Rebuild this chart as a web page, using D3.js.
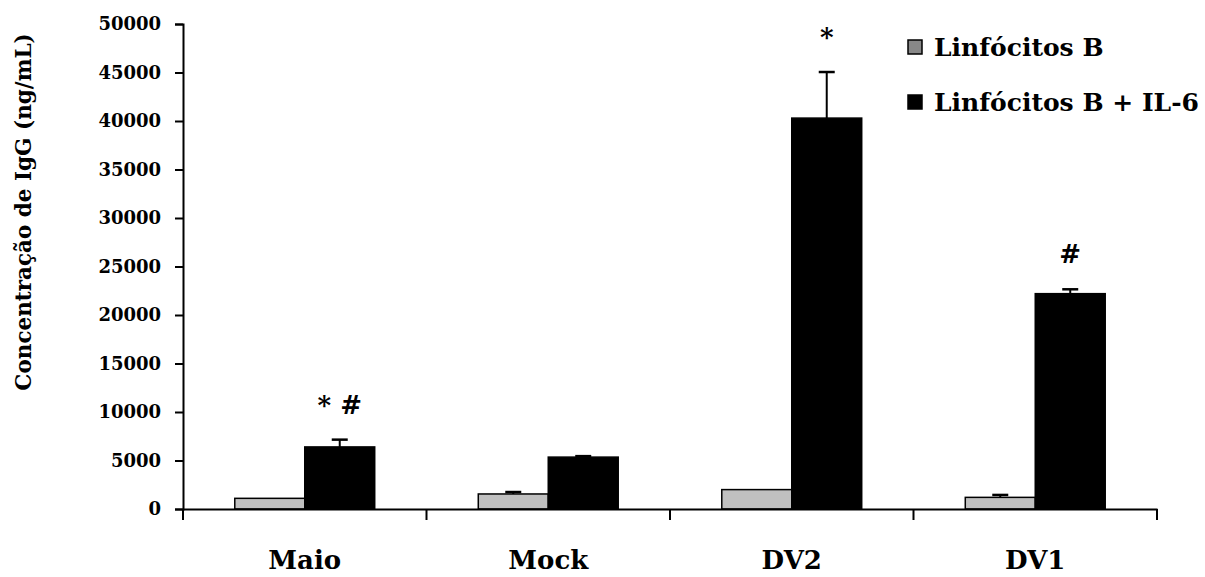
<!DOCTYPE html>
<html>
<head>
<meta charset="utf-8">
<script src="https://cdn.jsdelivr.net/npm/d3@7"></script>
<style>
  body { margin: 0; background: #fff; }
  text { font-family: "DejaVu Serif", serif; font-weight: bold; fill: #000; }
</style>
</head>
<body>
<div id="viz"></div>
<script>
// data
const categories = ["Maio", "Mock", "DV2", "DV1"];
const seriesNames = ["Linfócitos B", "Linfócitos B + IL-6"];
const linfB = [1100, 1550, 2000, 1200];
const linfBErr = [0, 200, 0, 250];
const linfIL6 = [6400, 5350, 40300, 22200];
const linfIL6Err = [750, 100, 4750, 450];
const marks = ["* #", "", "*", "#"];
const yTicks = [0, 5000, 10000, 15000, 20000, 25000, 30000, 35000, 40000, 45000, 50000];

const width = 1205, height = 577;
const plotLeft = 183, plotRight = 1157, plotTop = 24, plotBottom = 509;

const svg = d3.select("#viz").append("svg")
    .attr("width", width)
    .attr("height", height);

// scales
const x = d3.scaleBand().domain(categories).range([plotLeft, plotRight]);
const xInner = d3.scaleBand().domain(seriesNames)
    .range([0, x.bandwidth()])
    .paddingOuter(0.74);
const y = d3.scaleLinear().domain([0, 50000]).range([plotBottom, plotTop]);

const fills = ["#c0c0c0", "#000000"];
const values = [linfB, linfIL6];
const errs = [linfBErr, linfIL6Err];

// bars
seriesNames.forEach((s, si) => {
    const g = svg.append("g");
    const rows = categories.map((c, i) => ({ c, v: values[si][i], e: errs[si][i] }));
    g.selectAll("rect").data(rows).join("rect")
        .attr("x", d => x(d.c) + xInner(s))
        .attr("y", d => y(d.v))
        .attr("width", xInner.bandwidth())
        .attr("height", d => y(0) - y(d.v))
        .attr("fill", fills[si])
        .attr("stroke", "#000")
        .attr("stroke-width", 1.5);

    // error bars (upward only)
    const eb = g.selectAll("g.err").data(rows.filter(d => d.e > 0)).join("g")
        .attr("class", "err");
    const cx = d => x(d.c) + xInner(s) + xInner.bandwidth() / 2;
    eb.append("line")
        .attr("x1", cx).attr("x2", cx)
        .attr("y1", d => y(d.v)).attr("y2", d => y(d.v + d.e))
        .attr("stroke", "#000").attr("stroke-width", 2);
    eb.append("line")
        .attr("x1", d => cx(d) - 8).attr("x2", d => cx(d) + 8)
        .attr("y1", d => y(d.v + d.e)).attr("y2", d => y(d.v + d.e))
        .attr("stroke", "#000").attr("stroke-width", 2.5);
});

// significance marks above the IL-6 bars
svg.append("g").selectAll("text")
    .data(categories.map((c, i) => ({ c, m: marks[i], top: linfIL6[i] + linfIL6Err[i] })))
    .join("text")
    .attr("x", d => x(d.c) + xInner(seriesNames[1]) + xInner.bandwidth() / 2)
    .attr("y", d => y(d.top) - 26)
    .attr("text-anchor", "middle")
    .attr("font-size", 26)
    .text(d => d.m);

// y axis
const yAxis = d3.axisLeft(y).tickValues(yTicks).tickFormat(d3.format("d"))
    .tickSize(8).tickPadding(14);
const gy = svg.append("g").attr("transform", `translate(${plotLeft},0)`).call(yAxis);
gy.select(".domain").attr("stroke-width", 2);
gy.selectAll(".tick line").attr("stroke-width", 2);
gy.selectAll(".tick text").attr("font-size", 18).attr("font-family", "DejaVu Serif").attr("font-weight", "bold");

// x axis
const xAxis = d3.axisBottom(x).tickSize(0).tickPadding(42);
const gx = svg.append("g").attr("transform", `translate(0,${plotBottom})`).call(xAxis);
gx.select(".domain").attr("stroke-width", 2);
gx.selectAll(".tick text").attr("font-size", 26).attr("font-family", "DejaVu Serif").attr("font-weight", "bold");
// tick marks at the band edges
const edges = categories.map(c => x(c)).concat([x.range()[1]]);
gx.selectAll("line.edge").data(edges).join("line")
    .attr("class", "edge")
    .attr("x1", d => d).attr("x2", d => d)
    .attr("y1", 0).attr("y2", 11)
    .attr("stroke", "#000").attr("stroke-width", 2);

// y axis title
svg.append("text")
    .attr("transform", `translate(31,212) rotate(-90)`)
    .attr("text-anchor", "middle")
    .attr("font-size", 21.5)
    .text("Concentração de IgG (ng/mL)");

// legend
const legendFills = ["#888888", "#000000"];
const lg = svg.append("g").attr("transform", "translate(908,0)");
seriesNames.forEach((s, i) => {
    const cy = 47 + i * 55;
    lg.append("rect")
        .attr("x", 0).attr("y", cy - 7)
        .attr("width", 14).attr("height", 14)
        .attr("fill", legendFills[i])
        .attr("stroke", "#000").attr("stroke-width", 1.5);
    lg.append("text")
        .attr("x", 26).attr("y", cy + 9)
        .attr("font-size", 25)
        .text(s);
});
</script>
</body>
</html>
